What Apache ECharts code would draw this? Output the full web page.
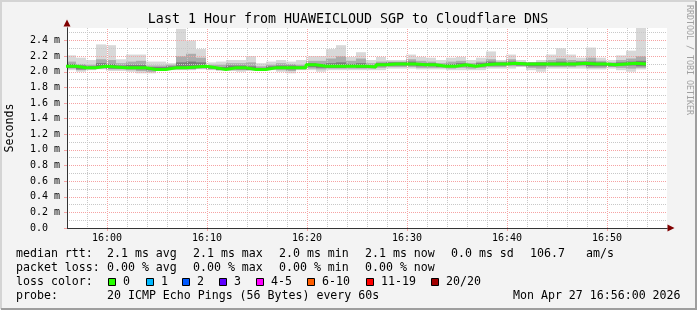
<!DOCTYPE html>
<html><head><meta charset="utf-8">
<script src="https://cdn.jsdelivr.net/npm/echarts@6/dist/echarts.min.js"></script>
<style>html,body{margin:0;padding:0;background:#f3f3f3}#c{width:697px;height:310px}</style>
</head><body><div id="c"></div>
<script>
// ---------- data ----------
const titleText = 'Last 1 Hour from HUAWEICLOUD SGP to Cloudflare DNS';
const axisStart = 956;            // 15:56 in minutes of day
const axisEnd = 1016;             // 16:56
const firstBarStart = 955.9;      // first 1-minute step
const xTickValues = [960, 970, 980, 990, 1000, 1010];
const yMaxValue = 2.56;

const smokeMax = [2.21,2.18,2.15,2.35,2.34,2.16,2.22,2.22,2.13,2.13,2.11,2.55,2.40,2.29,2.12,2.13,2.15,2.15,2.20,2.11,2.13,
  2.15,2.13,2.15,2.20,2.20,2.29,2.34,2.19,2.25,2.15,2.19,2.15,2.15,2.22,2.19,2.18,2.15,2.18,2.19,2.15,2.18,
  2.26,2.15,2.22,2.15,2.12,2.15,2.22,2.30,2.22,2.18,2.31,2.18,2.15,2.21,2.27,2.56];
const smokeHi = [2.13,2.10,2.09,2.16,2.15,2.11,2.13,2.14,2.08,2.08,2.09,2.20,2.23,2.18,2.09,2.09,2.11,2.11,2.12,2.07,2.09,
  2.11,2.10,2.09,2.14,2.14,2.17,2.20,2.14,2.17,2.11,2.13,2.13,2.13,2.16,2.14,2.13,2.11,2.13,2.14,2.11,2.13,
  2.16,2.13,2.16,2.12,2.11,2.12,2.15,2.17,2.15,2.14,2.18,2.14,2.12,2.15,2.17,2.20];
const smokeInHi = [2.10,2.08,2.07,2.11,2.10,2.08,2.09,2.09,2.06,2.06,2.07,2.12,2.13,2.12,2.07,2.06,2.08,2.08,2.07,2.05,2.07,
  2.08,2.08,2.07,2.11,2.10,2.11,2.12,2.10,2.11,2.08,2.11,2.12,2.12,2.13,2.11,2.11,2.09,2.10,2.11,2.09,2.11,
  2.13,2.12,2.13,2.12,2.12,2.12,2.12,2.13,2.12,2.13,2.13,2.12,2.11,2.12,2.13,2.14];
const medianRtt = [2.07,2.05,2.05,2.07,2.06,2.05,2.05,2.05,2.03,2.03,2.05,2.05,2.06,2.07,2.05,2.03,2.05,2.05,2.03,2.03,2.05,
  2.05,2.05,2.05,2.09,2.07,2.07,2.07,2.07,2.07,2.06,2.09,2.10,2.10,2.10,2.09,2.09,2.07,2.07,2.09,2.07,2.09,
  2.10,2.10,2.11,2.10,2.10,2.10,2.10,2.10,2.10,2.11,2.10,2.10,2.09,2.10,2.11,2.10];
const smokeInLo = [2.05,2.03,2.04,2.05,2.04,2.04,2.04,2.03,2.02,2.02,2.04,2.04,2.04,2.05,2.04,2.02,2.04,2.03,2.02,2.02,2.04,
  2.04,2.03,2.04,2.06,2.05,2.05,2.05,2.06,2.05,2.05,2.07,2.08,2.08,2.08,2.07,2.07,2.06,2.06,2.07,2.06,2.07,
  2.08,2.08,2.09,2.08,2.07,2.07,2.08,2.08,2.08,2.09,2.07,2.07,2.07,2.08,2.08,2.07];
const smokeLo = [2.04,2.02,2.03,2.04,2.03,2.03,2.02,2.01,2.00,2.02,2.03,2.03,2.03,2.04,2.03,2.02,2.02,2.02,2.02,2.01,2.03,
  2.02,2.01,2.03,2.04,2.03,2.04,2.04,2.04,2.04,2.04,2.05,2.06,2.06,2.06,2.05,2.05,2.05,2.04,2.05,2.04,2.05,
  2.06,2.06,2.07,2.07,2.05,2.04,2.06,2.06,2.06,2.07,2.05,2.05,2.06,2.05,2.04,2.05];
const smokeMin = [2.02,2.00,2.02,2.03,2.01,2.01,2.00,1.98,1.98,2.02,2.02,2.02,2.02,2.03,2.02,2.02,2.01,2.00,2.02,2.01,2.02,
  2.00,1.98,2.02,2.02,2.00,2.02,2.02,2.02,2.02,2.02,2.02,2.04,2.04,2.04,2.03,2.03,2.03,2.02,2.02,2.02,2.02,
  2.04,2.04,2.04,2.06,2.02,2.00,2.04,2.04,2.04,2.04,2.03,2.03,2.04,2.02,2.00,2.03];

const rttStats = ['2.1 ms avg', '2.1 ms max', '2.0 ms min', '2.1 ms now', '0.0 ms sd', '106.7', 'am/s'];
const lossStats = ['0.00 % avg', '0.00 % max', '0.00 % min', '0.00 % now'];
const lossLabels = ['0', '1', '2', '3', '4-5', '6-10', '11-19', '20/20'];
const lossColors = ['#26ff00', '#00b8ff', '#0059ff', '#5e00ff', '#ff00ff', '#ff5e00', '#ff0000', '#a10000'];
const probeText = '20 ICMP Echo Pings (56 Bytes) every 60s';
const dateText = 'Mon Apr 27 16:56:00 2026';

// ---------- build ----------
const smokeData = smokeMax.map((v, i) => [firstBarStart + i, firstBarStart + i + 1,
  smokeMin[i], smokeLo[i], smokeInLo[i], smokeInHi[i], smokeHi[i], smokeMax[i]]);
const medianData = medianRtt.map((m, i) => [firstBarStart + i, m]);
medianData.push([firstBarStart + medianRtt.length, medianRtt[medianRtt.length - 1]]);

const MONO = '"DejaVu Sans Mono", monospace';
const MINOR = '#c8c8c8';
const MAJOR = '#f5a3a3';
const fmtTime = v => Math.floor(v / 60) + ':' + String(Math.round(v % 60)).padStart(2, '0');

function renderSmoke(params, api) {
  const t0 = api.value(0), t1 = api.value(1);
  const cs = params.coordSys;
  const clip = {x: cs.x, y: cs.y, width: cs.width, height: cs.height};
  const band = (lo, hi, color) => {
    const p0 = api.coord([t0, hi]), p1 = api.coord([t1, lo]);
    const shape = echarts.graphic.clipRectByRect(
      {x: p0[0], y: p0[1], width: p1[0] - p0[0], height: p1[1] - p0[1]}, clip);
    return shape ? {type: 'rect', shape, style: {fill: color}} : null;
  };
  return {type: 'group', children: [
    band(api.value(2), api.value(7), '#d8d8d8'),
    band(api.value(3), api.value(6), '#acacac'),
    band(api.value(4), api.value(5), '#7c7c7c')
  ].filter(Boolean)};
}

// major vertical grid: dotted red over the minor dotted grey line at the same spot
function renderMajor(params, api) {
  const v = api.value(0);
  const p0 = api.coord([v, 0]), p1 = api.coord([v, yMaxValue]);
  const x = Math.round(p0[0]) + 0.5;
  const shape = {x1: x, y1: p0[1], x2: x, y2: p1[1]};
  return {type: 'group', children: [
    {type: 'line', shape, style: {stroke: '#ffffff', lineWidth: 1}},
    {type: 'line', shape, style: {stroke: MAJOR, lineWidth: 1, lineDash: [1, 1]}}
  ]};
}

// legend graphics
const g = [];
const txt = (x, y, s, extra) => g.push(Object.assign({type: 'text', x, y, z: 100,
  style: {text: s, font: '11.6px ' + MONO, fill: '#000', verticalAlign: 'middle'}}, extra || {}));
txt(348, 20, titleText, {style: {text: titleText, font: '13.3px ' + MONO, fill: '#000', align: 'center', verticalAlign: 'middle'}});
g.push({type: 'text', x: 10, y: 128, rotation: Math.PI / 2, z: 100,
  style: {text: 'Seconds', font: '11.6px ' + MONO, fill: '#000', align: 'center', verticalAlign: 'middle'}});
g.push({type: 'text', x: 689, y: 60, rotation: -Math.PI / 2, z: 100,
  style: {text: 'RRDTOOL / TOBI OETIKER', font: '8.3px ' + MONO, fill: '#a0a0a0', align: 'center', verticalAlign: 'middle'}});
const line1X = [107, 193, 279, 365, 451, 530, 586];
txt(16, 254, 'median rtt:');
rttStats.forEach((s, i) => txt(line1X[i], 254, s));
txt(16, 268, 'packet loss:');
lossStats.forEach((s, i) => txt(line1X[i], 268, s));
txt(16, 282, 'loss color:');
const boxX = [108, 146, 182, 219, 256, 307, 366, 431];
lossLabels.forEach((s, i) => {
  g.push({type: 'rect', z: 100, shape: {x: boxX[i] + 0.5, y: 278.5, width: 7, height: 7},
    style: {fill: lossColors[i], stroke: '#000', lineWidth: 1}});
  txt(boxX[i] + 15, 282, s);
});
txt(16, 296, 'probe:');
txt(107, 296, probeText);
txt(513, 296, dateText);
g.push({type: 'polyline', z: 100, shape: {points: [[1, 309], [1, 1], [696, 1]]}, style: {stroke: '#d4d4d4', lineWidth: 2, fill: null}});
g.push({type: 'polyline', z: 100, shape: {points: [[1, 309], [696, 309], [696, 1]]}, style: {stroke: '#9e9e9e', lineWidth: 2, fill: null}});

const chart = echarts.init(document.getElementById('c'), null, {renderer: 'canvas'});
chart.setOption({
  animation: false,
  backgroundColor: '#f3f3f3',
  grid: {left: 67, top: 28, width: 600, height: 200, show: true, backgroundColor: '#ffffff', borderWidth: 0},
  xAxis: [
    {type: 'value', min: axisStart, max: axisEnd, interval: 2, z: 3,
      axisLine: {show: true, onZero: false, lineStyle: {color: '#333', width: 1}},
      axisTick: {show: false}, axisLabel: {show: false},
      splitLine: {show: true, showMinLine: false, showMaxLine: false,
        lineStyle: {color: MINOR, width: 1, type: [1, 1]}}},
    {type: 'value', min: axisStart, max: axisEnd, z: 2, position: 'bottom',
      axisLine: {show: true, onZero: false, symbol: ['none', 'triangle'], symbolSize: [7, 7], symbolOffset: [0, 4],
        lineStyle: {color: '#800000', width: 1}},
      axisTick: {show: true, customValues: xTickValues, length: 3, lineStyle: {color: MAJOR}},
      axisLabel: {show: true, customValues: xTickValues, formatter: fmtTime, margin: 5,
        fontSize: 10, fontFamily: MONO, color: '#000'},
      splitLine: {show: false}}
  ],
  yAxis: [
    {type: 'value', min: 0, max: yMaxValue, interval: 0.1, z: 2, position: 'left',
      axisLine: {show: true, onZero: false, symbol: ['none', 'triangle'], symbolSize: [7, 7], symbolOffset: [0, 5],
        lineStyle: {color: '#800000', width: 1}},
      axisTick: {show: false}, axisLabel: {show: false},
      splitLine: {show: true, showMinLine: false, showMaxLine: false,
        lineStyle: {color: MINOR, width: 1, type: [1, 1]}}},
    {type: 'value', min: 0, max: yMaxValue, interval: 0.2, z: 4, position: 'left',
      axisLine: {show: true, onZero: false, lineStyle: {color: '#333', width: 1}},
      axisTick: {show: true, length: 3, lineStyle: {color: MAJOR}},
      axisLabel: {show: true, showMaxLabel: false, align: 'left', margin: 37,
        fontSize: 10, fontFamily: MONO, color: '#000',
        formatter: v => v === 0 ? '0.0' : v.toFixed(1) + ' m'},
      splitLine: {show: true, showMinLine: false, showMaxLine: false,
        lineStyle: {color: MAJOR, width: 1, type: [1, 1]}}}
  ],
  series: [
    {type: 'custom', name: 'smoke', xAxisIndex: 0, yAxisIndex: 0, z: 1, silent: true,
      renderItem: renderSmoke, data: smokeData, encode: {x: [0, 1], y: [2, 7]}},
    {type: 'custom', name: 'majorGrid', xAxisIndex: 0, yAxisIndex: 0, z: 4, silent: true,
      renderItem: renderMajor, data: xTickValues.map(v => [v]), encode: {x: 0}},
    {type: 'line', name: 'median', xAxisIndex: 0, yAxisIndex: 0, z: 5, silent: true,
      step: 'end', symbol: 'none', clip: true, data: medianData,
      lineStyle: {color: '#26ff00', width: 3}}
  ],
  graphic: g
});
</script></body></html>
